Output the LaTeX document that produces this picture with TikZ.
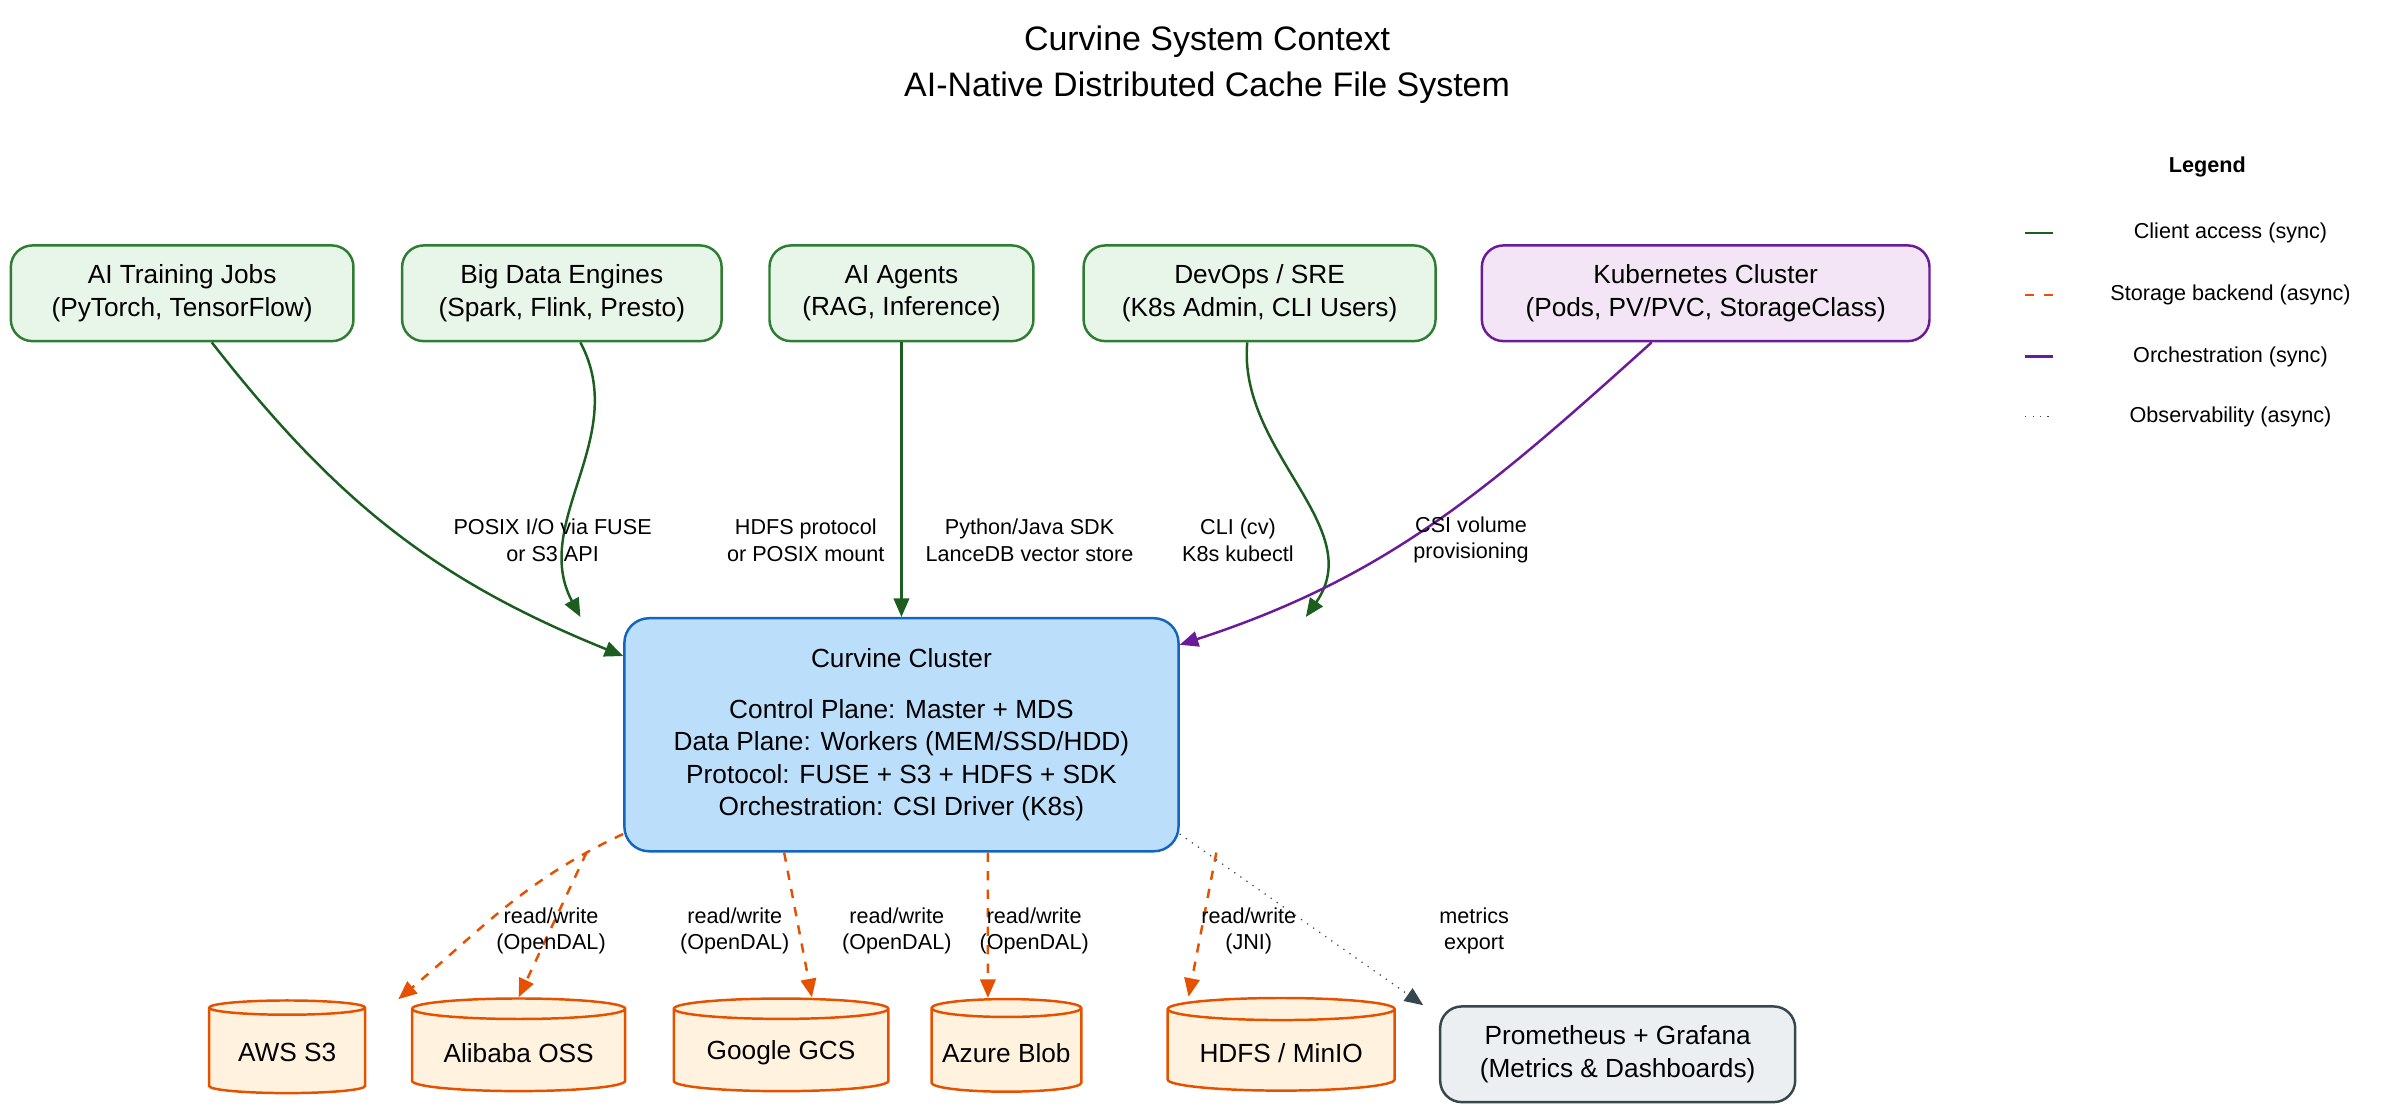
\documentclass[tikz,border=0pt]{standalone}
\usepackage{fontspec}
\setmainfont{Liberation Sans}
\usetikzlibrary{shapes.geometric,arrows.meta,positioning}
\definecolor{cgreen}{HTML}{2E7D32}
\definecolor{cdgreen}{HTML}{1B5E20}
\definecolor{cgreenf}{HTML}{E8F5E9}
\definecolor{cpurple}{HTML}{6A1B9A}
\definecolor{cpurplef}{HTML}{F3E5F5}
\definecolor{cblue}{HTML}{1565C0}
\definecolor{cbluef}{HTML}{BBDEFB}
\definecolor{corange}{HTML}{E65100}
\definecolor{corangef}{HTML}{FFF3E0}
\definecolor{cgray}{HTML}{37474F}
\definecolor{cgrayf}{HTML}{ECEFF1}
\begin{document}
\begin{tikzpicture}[x=0.5pt,y=0.5pt,font=\fontsize{8.5}{10.5}\selectfont]
 \tikzset{client node/.style={rectangle, draw=cgreen, fill=cgreenf, thick,
 		text centered, rounded corners=7pt, align=center, minimum height=31pt}, }
 \tikzset{k8s node/.style={client node, draw=cpurple, fill=cpurplef}, }
 \tikzset{core node/.style={rectangle, draw=cblue, fill=cbluef, thick,
 		text centered, rounded corners=8pt, align=center,
 		minimum width=179.5pt, minimum height=75.5pt}, }
 \tikzset{store node/.style={cylinder, shape border rotate=90, aspect=0.12,
 		draw=corange, fill=corangef, thick, text centered, minimum height=30pt}, }
 \tikzset{mon node/.style={rectangle, draw=cgray, fill=cgrayf, thick,
 		text centered, rounded corners=7pt, align=center, minimum height=31pt}, }
 \tikzset{lbl node/.style={font=\fontsize{7}{8.5}\selectfont, align=center}, }
 \tikzset{sync/.style={-{Triangle[length=6pt,width=5pt]}, thick, cdgreen},}
 \tikzset{orch/.style={sync, cpurple},}
 \tikzset{store/.style={sync, corange, dashed},}
 \tikzset{obs/.style={sync, cgray, thin, dotted},}
 \useasboundingbox (0,0) rectangle (1560,-718);
 \node[font=\fontsize{11}{15}\selectfont, align=center] (title) at (782,-42)
 	{Curvine System Context\\AI-Native Distributed Cache File System};
 % clients
 \node[client node, minimum width=111pt] (train) at (118,-190) {AI Training Jobs\\(PyTorch, TensorFlow)};
 \node[client node, minimum width=103.5pt] (bigdata) at (364,-190) {Big Data Engines\\(Spark, Flink, Presto)};
 \node[client node, minimum width=85.5pt] (agents) at (584,-190) {AI Agents\\(RAG, Inference)};
 \node[client node, minimum width=114pt] (devops) at (816,-190) {DevOps / SRE\\(K8s Admin, CLI Users)};
 \node[k8s node, minimum width=145pt] (k8s) at (1105,-190) {Kubernetes Cluster\\(Pods, PV/PVC, StorageClass)};
 % cluster
 \node[core node] (curvine) at (584,-476) {Curvine Cluster\\[6pt]Control Plane: Master + MDS\\Data Plane: Workers (MEM/SSD/HDD)\\Protocol: FUSE + S3 + HDFS + SDK\\Orchestration: CSI Driver (K8s)};
 % backends
 \node[store node, minimum width=50.5pt] (s3) at (186,-682) {AWS S3};
 \node[store node, minimum width=69pt] (oss) at (336,-682) {Alibaba OSS};
 \node[store node, minimum width=69.5pt] (gcs) at (506,-682) {Google GCS};
 \node[store node, minimum width=48.5pt] (blob) at (652,-682) {Azure Blob};
 \node[store node, minimum width=73.5pt] (hdfs) at (830,-682) {HDFS / MinIO};
 \node[mon node, minimum width=115pt] (prom) at (1048,-683) {Prometheus + Grafana\\(Metrics \& Dashboards)};
 % client edges
 \draw[sync] (train.south west) ++(131,0) coordinate (a1) to[out=-52,in=158] (curvine.west |- 0,-425);
 \draw[sync] (bigdata.south) ++(12,0) to[out=-62,in=118] ([xshift=-104]curvine.north);
 \draw[sync] (agents) -- (curvine);
 \draw[sync] (devops.south) ++(-8,0) to[out=-95,in=55] ([xshift=131]curvine.north);
 \draw[orch] (k8s.south) ++(-35,0) to[out=-138,in=18] ([yshift=-9]curvine.north east);
 \node[lbl node] (l1) at (358,-350) {POSIX I/O via FUSE\\or S3 API};
 \node[lbl node] (l2) at (522,-350) {HDFS protocol\\or POSIX mount};
 \node[lbl node] (l3) at (667,-350) {Python/Java SDK\\LanceDB vector store};
 \node[lbl node] (l4) at (802,-350) {CLI (cv)\\K8s kubectl};
 \node[lbl node] (l5) at (953,-350) {CSI volume\\provisioning};
 % backend edges
 \draw[store] (curvine.south west) ++(0,12) to[out=-155,in=40] ([xshift=36]s3.north);
 \foreach \x /\y /\s in{oss/-102/0,gcs/-38/10,blob/28/-6,hdfs/102/-30}
 \draw[store] ([xshift=\y]curvine.south) -- ([xshift=\s]\x.north);
 \draw[obs] ([yshift=6]curvine.south east) -- ([xshift=-63]prom.north);
 \foreach \x /\t in{357/OpenDAL,476/OpenDAL,581/OpenDAL,670/OpenDAL,809/JNI/native}
 \node[lbl node] at (\x,-603) {read/write\\(\t)};
 \node[lbl node] (l6) at (955,-603) {metrics\\export};
 % legend
 \node[font=\fontsize{7}{8.5}\selectfont\bfseries] (leg) at (1430,-108) {Legend};
 \foreach \y /\st /\t in{151/sync/Client access (sync),191/store/Storage backend (async),231/orch/Orchestration (sync),270/obs/Observability (async)}{
 \draw[\st,-] (1312,-\y) -- (1330,-\y);
 \node[lbl node] at (1445,-\y) {\t};}
\end{tikzpicture}
\end{document}
